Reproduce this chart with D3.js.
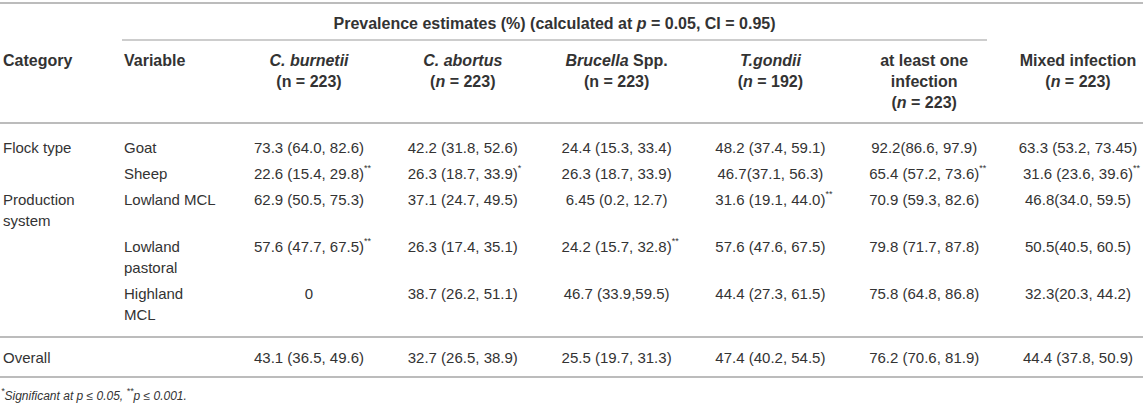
<!DOCTYPE html>
<html>
<head>
<meta charset="utf-8">
<script src="https://cdn.jsdelivr.net/npm/d3@7"></script>
<style>
  body { margin: 0; background: #fff; }
  text { font-family: "Liberation Sans", Arial, Helvetica, sans-serif; fill: #333; }
</style>
</head>
<body>
<svg id="tab" width="1143" height="408"></svg>
<script>
// table content ( _x_ = italic, ^x^ = superscript, \n = line break )
const groupTitle = "Prevalence estimates (%) (calculated at _p_ = 0.05, CI = 0.95)";
const stubHeaders = ["Category", "Variable"];
const columnKeys = ["burnetii", "abortus", "brucella", "gondii", "atLeastOne", "mixed"];
const columnHeaders = [
    "_C. burnetii_\n(n = 223)",
    "_C. abortus_\n(_n_ = 223)",
    "_Brucella_ Spp.\n(n = 223)",
    "_T.gondii_\n(_n_ = 192)",
    "at least one\ninfection\n(_n_ = 223)",
    "Mixed infection\n(_n_ = 223)"
];
const categories = ["Flock type", "", "Production\nsystem", "", "", "Overall"];
const variables = ["Goat", "Sheep", "Lowland MCL", "Lowland\npastoral", "Highland\nMCL", ""];

const burnetii = ["73.3 (64.0, 82.6)", "22.6 (15.4, 29.8)^**^", "62.9 (50.5, 75.3)", "57.6 (47.7, 67.5)^**^", "0", "43.1 (36.5, 49.6)"];
const abortus = ["42.2 (31.8, 52.6)", "26.3 (18.7, 33.9)^*^", "37.1 (24.7, 49.5)", "26.3 (17.4, 35.1)", "38.7 (26.2, 51.1)", "32.7 (26.5, 38.9)"];
const brucella = ["24.4 (15.3, 33.4)", "26.3 (18.7, 33.9)", "6.45 (0.2, 12.7)", "24.2 (15.7, 32.8)^**^", "46.7 (33.9,59.5)", "25.5 (19.7, 31.3)"];
const gondii = ["48.2 (37.4, 59.1)", "46.7(37.1, 56.3)", "31.6 (19.1, 44.0)^**^", "57.6 (47.6, 67.5)", "44.4 (27.3, 61.5)", "47.4 (40.2, 54.5)"];
const atLeastOne = ["92.2(86.6, 97.9)", "65.4 (57.2, 73.6)^**^", "70.9 (59.3, 82.6)", "79.8 (71.7, 87.8)", "75.8 (64.8, 86.8)", "76.2 (70.6, 81.9)"];
const mixed = ["63.3 (53.2, 73.45)", "31.6 (23.6, 39.6)^**^", "46.8(34.0, 59.5)", "50.5(40.5, 60.5)", "32.3(20.3, 44.2)", "44.4 (37.8, 50.9)"];

const footnote = "^*^Significant at p ≤ 0.05, ^**^p ≤ 0.001.";

const values = { burnetii, abortus, brucella, gondii, atLeastOne, mixed };

const W = 1143;
const LINE = 21, GAP = 26, FS = 15, FS_HEAD = 16;
const svg = d3.select("#tab");

const x = d3.scalePoint().domain(columnKeys).range([309, 1078]);
const xCat = 3, xVar = 124;

// write a string with the little markup into a text element
function rich(text, str) {
    let raised = false;
    str.split(/(\^[^^]+\^|_[^_]+_)/).filter((s) => s.length).forEach((p) => {
        const t = text.append("tspan");
        if (p[0] === "^") {
            t.text(p.slice(1, -1)).attr("font-size", 9).attr("dy", -5);
            raised = true;
        } else {
            if (raised) { t.attr("dy", 5); raised = false; }
            if (p[0] === "_") t.text(p.slice(1, -1)).attr("font-style", "italic");
            else t.text(p);
        }
    });
    return text;
}

function cell(g, str, xPos, y, anchor, bold) {
    str.split("\n").forEach((line, i) => {
        const t = g.append("text")
            .attr("x", xPos)
            .attr("y", y + i * LINE)
            .attr("dominant-baseline", "central")
            .attr("font-size", bold ? FS_HEAD : FS)
            .attr("font-weight", bold ? "bold" : null)
            .attr("text-anchor", anchor);
        rich(t, line);
    });
}

// value cell : centre the number, let the stars hang on the right
function valueCell(g, str, cx, y) {
    const t = g.append("text")
        .attr("y", y)
        .attr("dominant-baseline", "central")
        .attr("font-size", FS);
    rich(t, str);
    const w = t.select("tspan").node().getComputedTextLength();
    t.attr("x", cx - w / 2);
}

function rule(y, x1, x2, sw) {
    svg.append("line")
        .attr("x1", x1).attr("x2", x2)
        .attr("y1", y).attr("y2", y)
        .style("stroke", "#bcbcbc")
        .style("stroke-width", sw);
}

// header
rule(3, 0, W, 2);
const head = svg.append("g");
cell(head, groupTitle, (122 + 987) / 2, 23, "middle", true);
rule(40, 122, 987, 1.5);
cell(head, stubHeaders[0], xCat, 60, "start", true);
cell(head, stubHeaders[1], xVar, 60, "start", true);
columnKeys.forEach((k, i) => cell(head, columnHeaders[i], x(k), 60, "middle", true));
rule(123, 0, W, 2);

// body
const body = svg.append("g");
let y = 147;
categories.forEach((c, r) => {
    const nLines = Math.max(c.split("\n").length, variables[r].split("\n").length);
    if (r === categories.length - 1) {
        y = y - GAP + 23;
        rule(y, 0, W, 2);
        y += 20;
    }
    cell(body, c, xCat, y, "start", false);
    cell(body, variables[r], xVar, y, "start", false);
    columnKeys.forEach((k) => valueCell(body, values[k][r], x(k), y));
    y += (nLines - 1) * LINE + GAP;
});
y = y - GAP + 20;
rule(y, 0, W, 2);

// footnote
const fn = svg.append("text")
    .attr("x", 1)
    .attr("y", y + 19)
    .attr("dominant-baseline", "central")
    .attr("font-size", 12)
    .attr("font-style", "italic");
rich(fn, footnote);
</script>
</body>
</html>
